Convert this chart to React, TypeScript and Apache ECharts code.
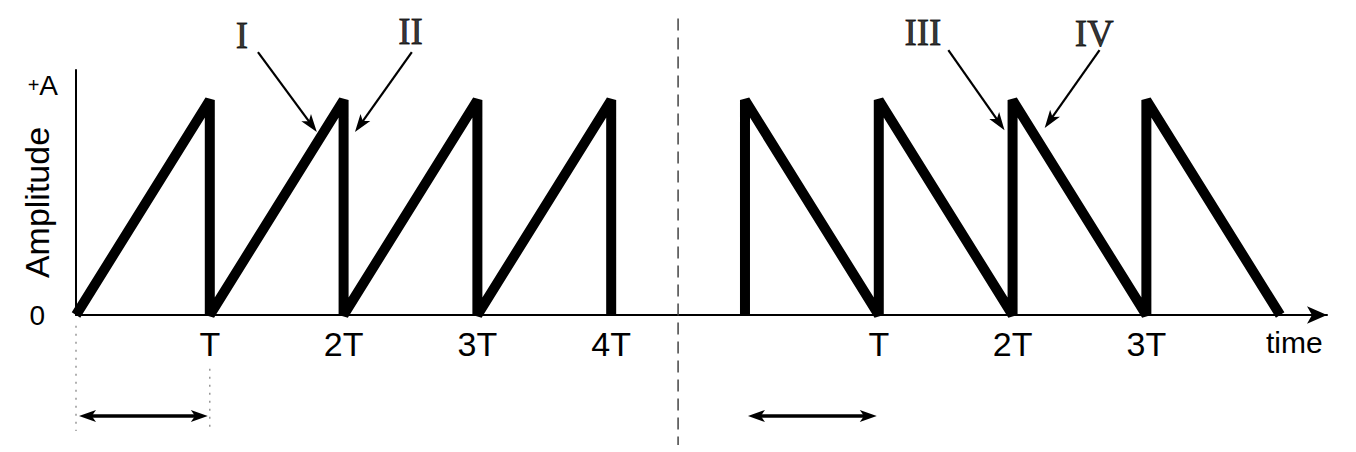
import React, { useEffect, useRef } from "react";
import * as echarts from "echarts";

// ---- data ----
const leftTimes = [0, 1, 1, 2, 2, 3, 3, 4, 4];
const leftAmps = [0, 1, 0, 1, 0, 1, 0, 1, 0];
const rightTimes = [5, 5, 6, 6, 7, 7, 8, 8, 9];
const rightAmps = [0, 1, 0, 1, 0, 1, 0, 1, 0];
const xTickValues = [1, 2, 3, 4, 6, 7, 8];
const xTickLabels = ["T", "2T", "3T", "4T", "T", "2T", "3T"];
const yTickValues = [0, 1];
const yTickLabels = ["0", "+A"];
const dividerTime = 4.5;
const periodSpans = [
  [0, 1],
  [5, 6],
];
const guideTimes = [0, 1];
const annotationNames = ["I", "II", "III", "IV"];
const annotationAt = [
  [1.24, 1.3],
  [2.5, 1.32],
  [6.33, 1.316],
  [7.61, 1.31],
];
const arrowTails = [
  [1.36, 1.223],
  [2.51, 1.223],
  [6.52, 1.233],
  [7.65, 1.233],
];
const arrowTips = [
  [1.8, 0.851],
  [2.085, 0.851],
  [6.94, 0.86],
  [7.24, 0.87],
];

// layout constants (in axis units)
const X_MAX = 9.35;
const Y_MAX = 1.14;
const DIVIDER_TOP = 1.38;
const DIVIDER_BOTTOM = -0.605;
const GUIDE_TOPS = [-0.05, -0.25];
const GUIDE_BOTTOM = -0.54;
const PERIOD_LEVEL = -0.47;

const SANS = "'Liberation Sans', Arial, sans-serif";
const SERIF = "'Liberation Serif', 'Times New Roman', serif";

function head(tip: number[], from: number[], len: number, half: number) {
  const dx = tip[0] - from[0];
  const dy = tip[1] - from[1];
  const d = Math.hypot(dx, dy) || 1;
  const ux = dx / d;
  const uy = dy / d;
  const bx = tip[0] - ux * len;
  const by = tip[1] - uy * len;
  return {
    points: [
      [tip[0], tip[1]],
      [bx - uy * half, by + ux * half],
      [tip[0] - ux * len * 0.75, tip[1] - uy * len * 0.75],
      [bx + uy * half, by - ux * half],
    ],
    base: [tip[0] - ux * len * 0.7, tip[1] - uy * len * 0.7],
  };
}

export default function App() {
  const ref = useRef<HTMLDivElement>(null);
  useEffect(() => {
    if (!ref.current) return;
    const chart = echarts.init(ref.current, undefined, { renderer: "svg" });
    const option: any = {
      animation: false,
      backgroundColor: "#ffffff",
      grid: {
        left: 76,
        right: 29,
        top: 70,
        bottom: 137,
        containLabel: false,
        outerBoundsMode: "none",
      },
      xAxis: {
        type: "value",
        min: 0,
        max: X_MAX,
        interval: 1,
        splitLine: { show: false },
        axisTick: { show: false },
        axisLine: {
          lineStyle: { color: "#000", width: 2 },
          symbol: ["none", "arrow"],
          symbolSize: [13, 20],
        },
        axisLabel: {
          margin: 12,
          fontFamily: SANS,
          fontSize: 34,
          color: "#000",
          showMaxLabel: false,
          formatter: (v: number) => {
            const i = xTickValues.indexOf(v);
            return i >= 0 ? xTickLabels[i] : "";
          },
        },
        name: "time",
        nameLocation: "end",
        nameGap: -61,
        nameTextStyle: {
          fontFamily: SANS,
          fontSize: 30,
          color: "#000",
          align: "left",
          verticalAlign: "top",
          padding: [12, 0, 0, 0],
        },
      },
      yAxis: {
        type: "value",
        min: 0,
        max: Y_MAX,
        interval: 1,
        splitLine: { show: false },
        axisTick: { show: false },
        axisLine: { lineStyle: { color: "#000", width: 2 } },
        axisLabel: {
          margin: 18,
          color: "#000",
          showMaxLabel: false,
          formatter: (v: number) => {
            const i = yTickValues.indexOf(v);
            if (i < 0) return "";
            const t = yTickLabels[i];
            if (t.startsWith("+")) return "{p|+}{a|" + t.slice(1) + "}\n{s| }";
            return "{z|" + t + "}";
          },
          rich: {
            p: { fontFamily: SANS, fontSize: 20, color: "#000", lineHeight: 28 },
            a: { fontFamily: SANS, fontSize: 28, color: "#000", lineHeight: 28 },
            s: { fontSize: 10, lineHeight: 30 },
            z: { fontFamily: SANS, fontSize: 28, color: "#000", padding: [0, 13, 0, 0] },
          },
        },
        name: "Amplitude",
        nameLocation: "middle",
        nameRotate: 90,
        nameGap: 22,
        nameMoveOverlap: false,
        nameTextStyle: {
          fontFamily: SANS,
          fontSize: 34,
          color: "#000",
          padding: [0, 20, 0, 0],
        },
      },
      series: [
        {
          type: "line",
          data: leftTimes.map((t, i) => [t, leftAmps[i]]),
          showSymbol: false,
          symbol: "none",
          lineStyle: { color: "#000", width: 10 },
          silent: true,
          z: 3,
        },
        {
          type: "line",
          data: rightTimes.map((t, i) => [t, rightAmps[i]]),
          showSymbol: false,
          symbol: "none",
          lineStyle: { color: "#000", width: 10 },
          silent: true,
          z: 3,
        },
        {
          type: "custom",
          clip: false,
          silent: true,
          data: [[dividerTime]],
          renderItem: (_p: any, api: any) => {
            const a = api.coord([api.value(0), DIVIDER_TOP]);
            const b = api.coord([api.value(0), DIVIDER_BOTTOM]);
            return {
              type: "line",
              shape: { x1: a[0], y1: a[1], x2: b[0], y2: b[1] },
              style: { stroke: "#444", lineWidth: 1.5, lineDash: [12, 7] },
            };
          },
          z: 1,
        },
        {
          type: "custom",
          clip: false,
          silent: true,
          data: guideTimes.map((t) => [t]),
          renderItem: (p: any, api: any) => {
            const a = api.coord([api.value(0), GUIDE_TOPS[p.dataIndex]]);
            const b = api.coord([api.value(0), GUIDE_BOTTOM]);
            return {
              type: "line",
              shape: { x1: a[0], y1: a[1], x2: b[0], y2: b[1] },
              style: { stroke: "#888", lineWidth: 1.3, lineDash: [2, 6] },
            };
          },
          z: 1,
        },
        {
          type: "custom",
          clip: false,
          silent: true,
          data: periodSpans,
          renderItem: (_p: any, api: any) => {
            const a = api.coord([api.value(0), PERIOD_LEVEL]);
            const b = api.coord([api.value(1), PERIOD_LEVEL]);
            a[0] += 3;
            b[0] -= 2;
            const h1 = head(b, a, 17, 6);
            const h2 = head(a, b, 17, 6);
            return {
              type: "group",
              children: [
                {
                  type: "line",
                  shape: { x1: h2.base[0], y1: h2.base[1], x2: h1.base[0], y2: h1.base[1] },
                  style: { stroke: "#000", lineWidth: 3.5 },
                },
                { type: "polygon", shape: { points: h1.points }, style: { fill: "#000" } },
                { type: "polygon", shape: { points: h2.points }, style: { fill: "#000" } },
              ],
            };
          },
          z: 2,
        },
        {
          type: "custom",
          clip: false,
          silent: true,
          data: arrowTails.map((t, i) => [t[0], t[1], arrowTips[i][0], arrowTips[i][1]]),
          renderItem: (_p: any, api: any) => {
            const a = api.coord([api.value(0), api.value(1)]);
            const b = api.coord([api.value(2), api.value(3)]);
            const h = head(b, a, 18, 6);
            return {
              type: "group",
              children: [
                {
                  type: "line",
                  shape: { x1: a[0], y1: a[1], x2: h.base[0], y2: h.base[1] },
                  style: { stroke: "#000", lineWidth: 2.2 },
                },
                { type: "polygon", shape: { points: h.points }, style: { fill: "#000" } },
              ],
            };
          },
          z: 4,
        },
        {
          type: "scatter",
          clip: false,
          silent: true,
          symbolSize: 1,
          itemStyle: { color: "rgba(0,0,0,0)" },
          data: annotationAt.map((p, i) => ({ value: p, name: annotationNames[i] })),
          label: {
            show: true,
            position: "inside",
            formatter: "{b}",
            fontFamily: SERIF,
            fontSize: 37,
            color: "#000",
            textBorderColor: "#000",
            textBorderWidth: 0.8,
          },
          z: 5,
        },
      ],
    };
    chart.setOption(option);
    return () => chart.dispose();
  }, []);
  return (
    <div
      ref={ref}
      style={{ position: "absolute", left: 0, top: 0, width: 1356, height: 452, background: "#fff" }}
    />
  );
}
